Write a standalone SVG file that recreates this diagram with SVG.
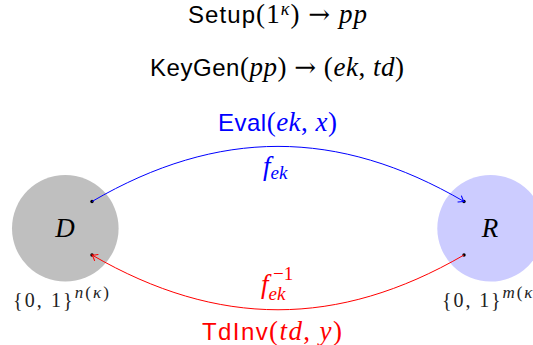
<svg xmlns="http://www.w3.org/2000/svg" width="533" height="345" viewBox="0 0 533 345">
<style>
.t{font-size:27px;fill:#000}
.sf{font-family:"Liberation Sans",Arial,sans-serif;font-size:24px}
.rm{font-family:"Liberation Serif","Times New Roman",serif}
.ar{font-family:"DejaVu Serif",serif;font-size:26px}
.it{font-family:"Liberation Serif","Times New Roman",serif;font-style:italic}
.blue{fill:#0000ff}
.red{fill:#ff0000}
.lbl{font-size:20px;fill:#222}
.dot{fill:#000}
</style>
<defs>
<marker id="arrB" markerUnits="userSpaceOnUse" markerWidth="14" markerHeight="14" viewBox="-8 -7 10 14" refX="0" refY="0" orient="auto">
<path d="M -5,-3.5 Q -1.5,-0.6 0,0 Q -1.5,0.6 -5,3.5" fill="none" stroke="#0000ff" stroke-width="1" stroke-linecap="round"/>
</marker>
<marker id="arrR" markerUnits="userSpaceOnUse" markerWidth="14" markerHeight="14" viewBox="-8 -7 10 14" refX="0" refY="0" orient="auto">
<path d="M -5,-3.5 Q -1.5,-0.6 0,0 Q -1.5,0.6 -5,3.5" fill="none" stroke="#ff0000" stroke-width="1" stroke-linecap="round"/>
</marker>
</defs>
<rect width="533" height="345" fill="#fff"/>
<g id="title">
<text x="188" y="23" textLength="179" lengthAdjust="spacing" class="t"><tspan class="sf">Setup</tspan><tspan class="rm">(1</tspan><tspan class="it" font-size="18" dy="-8">κ</tspan><tspan class="rm" dy="8">) </tspan><tspan class="ar">→</tspan><tspan class="rm"> </tspan><tspan class="it">pp</tspan></text>
<text x="150" y="76" textLength="254" lengthAdjust="spacing" class="t"><tspan class="sf">KeyGen</tspan><tspan class="rm">(</tspan><tspan class="it">pp</tspan><tspan class="rm">) </tspan><tspan class="ar">→</tspan><tspan class="rm"> (</tspan><tspan class="it">ek</tspan><tspan class="rm">, </tspan><tspan class="it">td</tspan><tspan class="rm">)</tspan></text>
</g>
<g id="node-D">
<circle cx="65.3" cy="228.3" r="53.3" fill="#bfbfbf"/>
<text x="65" y="237" text-anchor="middle" class="t it">D</text>
<text x="13" y="307" textLength="96" lengthAdjust="spacing" class="lbl"><tspan class="rm">{0, 1}</tspan><tspan class="it" font-size="17" dy="-9">n</tspan><tspan class="rm" font-size="17">(</tspan><tspan class="it" font-size="17">κ</tspan><tspan class="rm" font-size="17">)</tspan></text>
<circle class="dot" cx="92" cy="201.5" r="1.7"/>
<circle class="dot" cx="92" cy="255" r="1.7"/>
</g>
<g id="node-R">
<circle cx="490.6" cy="228.3" r="53.3" fill="#ccccff"/>
<text x="490" y="237" text-anchor="middle" class="t it">R</text>
<text x="442" y="307" textLength="98" lengthAdjust="spacing" class="lbl"><tspan class="rm">{0, 1}</tspan><tspan class="it" font-size="17" dy="-9">m</tspan><tspan class="rm" font-size="17">(</tspan><tspan class="it" font-size="17">κ</tspan><tspan class="rm" font-size="17">)</tspan></text>
<circle class="dot" cx="464" cy="201.5" r="1.7"/>
<circle class="dot" cx="464" cy="255" r="1.7"/>
</g>
<g id="connectors">
<path d="M 92,201.5 C 218,128 338,128 464,201.5" fill="none" stroke="#0000ff" stroke-width="1" marker-end="url(#arrB)"/>
<path d="M 464,255 C 338,328 218,328 92,255" fill="none" stroke="#ff0000" stroke-width="1" marker-end="url(#arrR)"/>
<text x="218" y="131" textLength="119" lengthAdjust="spacing" class="t blue"><tspan class="sf">Eval</tspan><tspan class="rm">(</tspan><tspan class="it">ek</tspan><tspan class="rm">, </tspan><tspan class="it">x</tspan><tspan class="rm">)</tspan></text>
<text x="263" y="175" class="t blue"><tspan class="it">f</tspan><tspan class="it" font-size="19" dy="4">ek</tspan></text>
<text x="261" y="293" class="t red"><tspan class="it">f</tspan><tspan class="it" font-size="19" dy="7">ek</tspan></text>
<text x="273" y="280" class="red rm" font-size="19">−1</text>
<text x="202" y="340" textLength="140" lengthAdjust="spacing" class="t red"><tspan class="sf">TdInv</tspan><tspan class="rm">(</tspan><tspan class="it">td</tspan><tspan class="rm">, </tspan><tspan class="it">y</tspan><tspan class="rm">)</tspan></text>
</g>
</svg>
